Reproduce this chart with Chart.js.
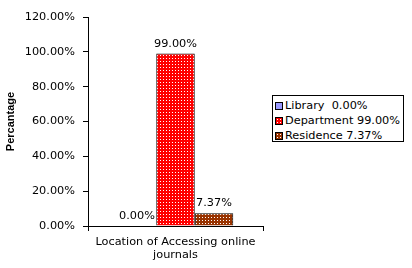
<!DOCTYPE html>
<html>
<head>
<meta charset="utf-8">
<script src="https://cdn.jsdelivr.net/npm/chart.js@4"></script>
<style>
    body { margin: 0; background: #fff; }
    #wrap { position: relative; width: 412px; height: 268px; }
    #legend {
        position: absolute; left: 272px; top: 95px; width: 130px; height: 45px;
        border: 1px solid #000; background: #fff;
        font: 11.3px "DejaVu Sans", Verdana, sans-serif; color: #000;
    }
    .item { position: absolute; left: 2px; height: 13px; line-height: 13px; white-space: pre; }
    .sw { display: inline-block; width: 6px; height: 6px; border: 1px solid #000; margin-right: 2px; vertical-align: -1px; }
</style>
</head>
<body>
<div id="wrap">
    <canvas id="chart" width="412" height="268"></canvas>
    <div id="legend"></div>
</div>
<script>
const categories = [["Location of Accessing online", "journals"]];
const seriesNames = ["Library ", "Department", "Residence"];
const library = [0.00];
const department = [99.00];
const residence = [7.37];
const yTicks = [0, 20, 40, 60, 80, 100, 120];

const baseColors = ["#9999FF", "#FF0000", "#993300"];


// ---------------- PATTERNS ----------------

function dotPattern(color, dotted) {
    const c = document.createElement("canvas");
    c.width = 3;
    c.height = 3;
    const g = c.getContext("2d");
    g.fillStyle = color;
    g.fillRect(0, 0, 3, 3);
    if (dotted) {
        g.fillStyle = "#FFFFFF";
        g.fillRect(1, 1, 1, 1);
    }
    return g.createPattern(c, "repeat");
}

const fills = [
    dotPattern(baseColors[0], false),
    dotPattern(baseColors[1], true),
    dotPattern(baseColors[2], true)
];

const values = [library, department, residence];


// ---------------- LEGEND ----------------

const legend = document.getElementById("legend");
seriesNames.forEach((name, i) => {
    const item = document.createElement("div");
    item.className = "item";
    item.style.top = (3 + i * 15) + "px";
    const sw = document.createElement("span");
    sw.className = "sw";
    if (i === 0) {
        sw.style.background = baseColors[0];
    } else {
        sw.style.backgroundColor = baseColors[i];
        sw.style.backgroundImage = "radial-gradient(#fff 0.6px, transparent 0.8px)";
        sw.style.backgroundSize = "3px 3px";
    }
    item.appendChild(sw);
    item.appendChild(document.createTextNode(name + " " + values[i][0].toFixed(2) + "%"));
    legend.appendChild(item);
});


// ---------------- VALUE LABELS ----------------

const valueLabels = {
    id: "valueLabels",
    afterDatasetsDraw(chart) {
        const ctx = chart.ctx;
        ctx.save();
        ctx.font = "11.3px 'DejaVu Sans', Verdana, sans-serif";
        ctx.fillStyle = "#000";
        ctx.textAlign = "center";
        ctx.textBaseline = "bottom";
        chart.data.datasets.forEach((ds, i) => {
            const meta = chart.getDatasetMeta(i);
            meta.data.forEach((bar, j) => {
                const v = ds.data[j];
                ctx.fillText(v.toFixed(2) + "%", bar.x, bar.y - 4);
            });
        });
        ctx.restore();
    }
};


// ---------------- CHART ----------------

Chart.defaults.font.family = "'DejaVu Sans', Verdana, sans-serif";
Chart.defaults.font.size = 11.3;
Chart.defaults.color = "#000";

new Chart(document.getElementById("chart"), {
    type: "bar",
    data: {
        labels: categories,
        datasets: seriesNames.map((name, i) => ({
            label: name.trim(),
            data: values[i],
            backgroundColor: fills[i],
            borderColor: "#000",
            borderWidth: 1,
            borderSkipped: "bottom",
            categoryPercentage: 0.66,
            barPercentage: 1.0
        }))
    },
    options: {
        responsive: false,
        animation: false,
        layout: {
            padding: { left: 4, top: 17, right: 149, bottom: 0 }
        },
        plugins: {
            legend: { display: false },
            tooltip: { enabled: false }
        },
        scales: {
            x: {
                offset: true,
                grid: {
                    display: true,
                    offset: true,
                    drawOnChartArea: false,
                    color: "#000",
                    tickLength: 5
                },
                border: { color: "#000", width: 1 },
                ticks: { padding: 4 },
                afterFit(scale) {
                    scale.height = 42;
                }
            },
            y: {
                min: 0,
                max: 120,
                afterBuildTicks(scale) {
                    scale.ticks = yTicks.map(v => ({ value: v }));
                },
                grid: {
                    display: true,
                    drawOnChartArea: false,
                    color: "#000",
                    tickLength: 5
                },
                border: { color: "#000", width: 1 },
                ticks: {
                    padding: 8,
                    callback: v => v.toFixed(2) + "%"
                },
                title: {
                    display: true,
                    text: "Percantage",
                    font: { family: "'Liberation Sans', Arial, sans-serif", size: 11, weight: "bold" },
                    padding: { top: 0, bottom: 0 }
                },
                afterFit(scale) {
                    scale.width = 84;
                }
            }
        }
    },
    plugins: [valueLabels]
});
</script>
</body>
</html>
